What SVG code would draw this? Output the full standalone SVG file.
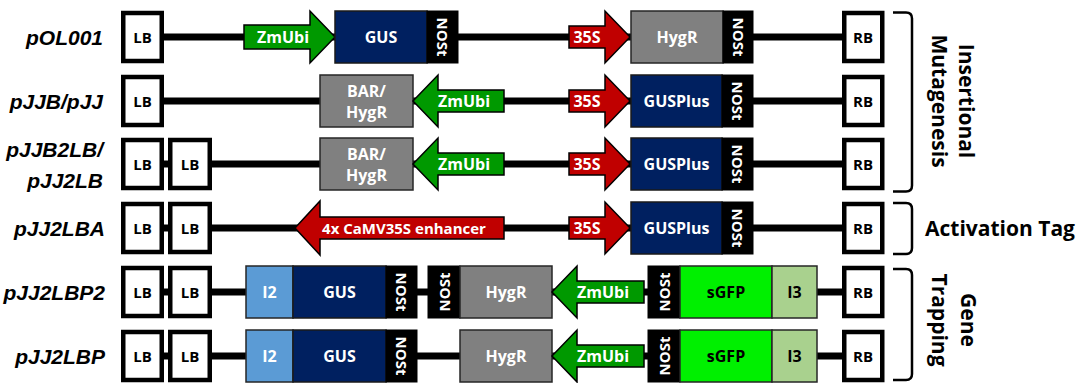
<svg xmlns="http://www.w3.org/2000/svg" width="1078" height="383" viewBox="0 0 1078 383">
  <style>
    .bb { stroke: #000; stroke-width: 7; fill: none; }
    .border { fill: #fff; stroke: #000; stroke-width: 4.5; }
    .blk { fill: #000; stroke: #000; stroke-width: 1; }
    .navy { fill: #002060; stroke: #1a1a1a; stroke-width: 1.5; }
    .gray { fill: #808080; stroke: #262626; stroke-width: 1.5; }
    .green { fill: #009900; stroke: #000; stroke-width: 1.5; }
    .red { fill: #c00000; stroke: #000; stroke-width: 1.5; }
    .lblue { fill: #5b9bd5; stroke: #262626; stroke-width: 1.5; }
    .bgreen { fill: #00f000; stroke: #262626; stroke-width: 1.5; }
    .lgreen { fill: #a9d18e; stroke: #262626; stroke-width: 1.5; }
    text { font-family: "Open Sans", "Liberation Sans", sans-serif; font-weight: bold; text-anchor: middle; }
    .w { fill: #fff; font-size: 16px; }
    .k { fill: #000; font-size: 16px; }
    .bt { fill: #000; font-size: 15px; }
    .nos { fill: #fff; font-size: 15px; }
    .name { font-family: "Liberation Sans", Arial, sans-serif; font-style: italic; font-size: 21px; text-anchor: end; fill: #000; }
    .grp { fill: #000; font-size: 21px; }
    .brk { fill: none; stroke: #000; stroke-width: 2.5; }
  </style>

  <!-- backbone lines between border sequences -->
  <g id="connectors">
    <line class="bb" x1="162" y1="37" x2="844" y2="37"/>
    <line class="bb" x1="162" y1="101" x2="844" y2="101"/>
    <line class="bb" x1="162" y1="164" x2="844" y2="164"/>
    <line class="bb" x1="162" y1="228" x2="844" y2="228"/>
    <line class="bb" x1="162" y1="292" x2="844" y2="292"/>
    <line class="bb" x1="162" y1="356" x2="844" y2="356"/>
  </g>

  <!-- vector names -->
  <g id="names">
    <text class="name" x="103" y="45">pOL001</text>
    <text class="name" x="103" y="109">pJJB/pJJ</text>
    <text class="name" x="103" y="157">pJJB2LB/</text>
    <text class="name" x="103" y="188">pJJ2LB</text>
    <text class="name" x="105" y="236">pJJ2LBA</text>
    <text class="name" x="105" y="300">pJJ2LBP2</text>
    <text class="name" x="105" y="364">pJJ2LBP</text>
  </g>

  <!-- row 1: pOL001 -->
  <g id="r1-lb"><rect class="border" x="123.25" y="13" width="38.5" height="48"/><text class="bt" x="142.5" y="42.5">LB</text></g>
  <g id="r1-zmubi"><polygon class="green" points="244,25 310,25 310,11 335,37 310,63 310,49 244,49"/><text class="w" x="283" y="43">ZmUbi</text></g>
  <g id="r1-gus"><rect class="navy" x="335" y="11" width="92" height="52"/><text class="w" x="381" y="43">GUS</text></g>
  <g id="r1-nost1"><rect class="blk" x="427" y="11" width="31" height="52"/><text class="nos" transform="translate(442.5,37) rotate(90)" y="5.5">NOSt</text></g>
  <g id="r1-35s"><polygon class="red" points="569,26 605,26 605,11 630,37 605,63 605,48 569,48"/><text class="w" x="587" y="43">35S</text></g>
  <g id="r1-hygr"><rect class="gray" x="631" y="11" width="92" height="52"/><text class="w" x="677" y="43">HygR</text></g>
  <g id="r1-nost2"><rect class="blk" x="723" y="11" width="30" height="52"/><text class="nos" transform="translate(738,37) rotate(90)" y="5.5">NOSt</text></g>
  <g id="r1-rb"><rect class="border" x="844.25" y="13" width="38" height="48"/><text class="bt" x="863" y="42.5">RB</text></g>

  <!-- row 2: pJJB/pJJ -->
  <g id="r2-lb"><rect class="border" x="123.25" y="77" width="38.5" height="48"/><text class="bt" x="142.5" y="106.5">LB</text></g>
  <g id="r2-sel"><rect class="gray" x="320" y="75" width="93" height="52"/><text class="w" x="366.5" y="97">BAR/</text><text class="w" x="366.5" y="118">HygR</text></g>
  <g id="r2-zmubi"><polygon class="green" points="504,90 438,90 438,75 413,101 438,127 438,112 504,112"/><text class="w" x="464" y="107">ZmUbi</text></g>
  <g id="r2-35s"><polygon class="red" points="569,90 605,90 605,75 630,101 605,127 605,112 569,112"/><text class="w" x="587" y="107">35S</text></g>
  <g id="r2-gusplus"><rect class="navy" x="631" y="75" width="91" height="52"/><text class="w" x="676.5" y="107">GUSPlus</text></g>
  <g id="r2-nost"><rect class="blk" x="722" y="75" width="31" height="52"/><text class="nos" transform="translate(737.5,101) rotate(90)" y="5.5">NOSt</text></g>
  <g id="r2-rb"><rect class="border" x="844.25" y="77" width="38" height="48"/><text class="bt" x="863" y="106.5">RB</text></g>

  <!-- row 3: pJJB2LB/pJJ2LB -->
  <g id="r3-lb1"><rect class="border" x="123.25" y="140" width="38.5" height="48"/><text class="bt" x="142.5" y="169.5">LB</text></g>
  <g id="r3-lb2"><rect class="border" x="170.25" y="140" width="39.5" height="48"/><text class="bt" x="190" y="169.5">LB</text></g>
  <g id="r3-sel"><rect class="gray" x="320" y="138" width="93" height="52"/><text class="w" x="366.5" y="160">BAR/</text><text class="w" x="366.5" y="181">HygR</text></g>
  <g id="r3-zmubi"><polygon class="green" points="504,153 438,153 438,138 413,164 438,190 438,175 504,175"/><text class="w" x="464" y="170">ZmUbi</text></g>
  <g id="r3-35s"><polygon class="red" points="569,153 605,153 605,138 630,164 605,190 605,175 569,175"/><text class="w" x="587" y="170">35S</text></g>
  <g id="r3-gusplus"><rect class="navy" x="631" y="138" width="91" height="52"/><text class="w" x="676.5" y="170">GUSPlus</text></g>
  <g id="r3-nost"><rect class="blk" x="722" y="138" width="31" height="52"/><text class="nos" transform="translate(737.5,164) rotate(90)" y="5.5">NOSt</text></g>
  <g id="r3-rb"><rect class="border" x="844.25" y="140" width="38" height="48"/><text class="bt" x="863" y="169.5">RB</text></g>

  <!-- row 4: pJJ2LBA -->
  <g id="r4-lb1"><rect class="border" x="123.25" y="204" width="38.5" height="48"/><text class="bt" x="142.5" y="233.5">LB</text></g>
  <g id="r4-lb2"><rect class="border" x="170.25" y="204" width="39.5" height="48"/><text class="bt" x="190" y="233.5">LB</text></g>
  <g id="r4-enh"><polygon class="red" points="504,217 320,217 320,201 295,228 320,255 320,239 504,239"/><text class="w" x="404" y="234" style="font-size:15px">4x CaMV35S enhancer</text></g>
  <g id="r4-35s"><polygon class="red" points="569,217 605,217 605,202 630,228 605,254 605,239 569,239"/><text class="w" x="587" y="234">35S</text></g>
  <g id="r4-gusplus"><rect class="navy" x="631" y="202" width="91" height="52"/><text class="w" x="676.5" y="234">GUSPlus</text></g>
  <g id="r4-nost"><rect class="blk" x="722" y="202" width="31" height="52"/><text class="nos" transform="translate(737.5,228) rotate(90)" y="5.5">NOSt</text></g>
  <g id="r4-rb"><rect class="border" x="844.25" y="204" width="38" height="48"/><text class="bt" x="863" y="233.5">RB</text></g>

  <!-- row 5: pJJ2LBP2 -->
  <g id="r5-lb1"><rect class="border" x="123.25" y="268" width="38.5" height="48"/><text class="bt" x="142.5" y="297.5">LB</text></g>
  <g id="r5-lb2"><rect class="border" x="170.25" y="268" width="39.5" height="48"/><text class="bt" x="190" y="297.5">LB</text></g>
  <g id="r5-i2"><rect class="lblue" x="246" y="266" width="47" height="52"/><text class="w" x="269.5" y="298">I2</text></g>
  <g id="r5-gus"><rect class="navy" x="293" y="266" width="93" height="52"/><text class="w" x="339.5" y="298">GUS</text></g>
  <g id="r5-nost1"><rect class="blk" x="386" y="266" width="31" height="52"/><text class="nos" transform="translate(401.5,292) rotate(90)" y="5.5">NOSt</text></g>
  <g id="r5-nost2"><rect class="blk" x="428" y="266" width="32" height="52"/><text class="nos" transform="translate(444,292) rotate(-90)" y="5.5">NOSt</text></g>
  <g id="r5-hygr"><rect class="gray" x="460" y="266" width="92" height="52"/><text class="w" x="506" y="298">HygR</text></g>
  <g id="r5-zmubi"><polygon class="green" points="644,281 577,281 577,266 552,292 577,318 577,303 644,303"/><text class="w" x="603" y="298">ZmUbi</text></g>
  <g id="r5-nost3"><rect class="blk" x="648" y="266" width="32" height="52"/><text class="nos" transform="translate(664,292) rotate(-90)" y="5.5">NOSt</text></g>
  <g id="r5-sgfp"><rect class="bgreen" x="680" y="266" width="92" height="52"/><text class="k" x="726" y="298">sGFP</text></g>
  <g id="r5-i3"><rect class="lgreen" x="772" y="266" width="45" height="52"/><text class="k" x="794.5" y="298">I3</text></g>
  <g id="r5-rb"><rect class="border" x="844.25" y="268" width="38" height="48"/><text class="bt" x="863" y="297.5">RB</text></g>

  <!-- row 6: pJJ2LBP -->
  <g id="r6-lb1"><rect class="border" x="123.25" y="332" width="38.5" height="48"/><text class="bt" x="142.5" y="361.5">LB</text></g>
  <g id="r6-lb2"><rect class="border" x="170.25" y="332" width="39.5" height="48"/><text class="bt" x="190" y="361.5">LB</text></g>
  <g id="r6-i2"><rect class="lblue" x="246" y="330" width="47" height="52"/><text class="w" x="269.5" y="362">I2</text></g>
  <g id="r6-gus"><rect class="navy" x="293" y="330" width="93" height="52"/><text class="w" x="339.5" y="362">GUS</text></g>
  <g id="r6-nost1"><rect class="blk" x="386" y="330" width="31" height="52"/><text class="nos" transform="translate(401.5,356) rotate(90)" y="5.5">NOSt</text></g>
  <g id="r6-hygr"><rect class="gray" x="460" y="330" width="92" height="52"/><text class="w" x="506" y="362">HygR</text></g>
  <g id="r6-zmubi"><polygon class="green" points="644,345 577,345 577,330 552,356 577,382 577,367 644,367"/><text class="w" x="603" y="362">ZmUbi</text></g>
  <g id="r6-nost2"><rect class="blk" x="648" y="330" width="32" height="52"/><text class="nos" transform="translate(664,356) rotate(-90)" y="5.5">NOSt</text></g>
  <g id="r6-sgfp"><rect class="bgreen" x="680" y="330" width="92" height="52"/><text class="k" x="726" y="362">sGFP</text></g>
  <g id="r6-i3"><rect class="lgreen" x="772" y="330" width="45" height="52"/><text class="k" x="794.5" y="362">I3</text></g>
  <g id="r6-rb"><rect class="border" x="844.25" y="332" width="38" height="48"/><text class="bt" x="863" y="361.5">RB</text></g>

  <!-- category brackets -->
  <g id="grp-insertional">
    <path class="brk" d="M893,12.5 H906 Q912,12.5 912,18.5 V185.5 Q912,191.5 906,191.5 H893"/>
    <text class="grp" transform="translate(959,101) rotate(90)">Insertional</text>
    <text class="grp" transform="translate(932,101) rotate(90)">Mutagenesis</text>
  </g>
  <g id="grp-activation">
    <path class="brk" d="M893,203 H906 Q912,203 912,209 V248 Q912,254 906,254 H893"/>
    <text class="grp" x="1000" y="236">Activation Tag</text>
  </g>
  <g id="grp-trapping">
    <path class="brk" d="M893,269 H906 Q912,269 912,275 V374 Q912,380 906,380 H893"/>
    <text class="grp" transform="translate(961,320) rotate(90)">Gene</text>
    <text class="grp" transform="translate(932,320) rotate(90)">Trapping</text>
  </g>
</svg>
